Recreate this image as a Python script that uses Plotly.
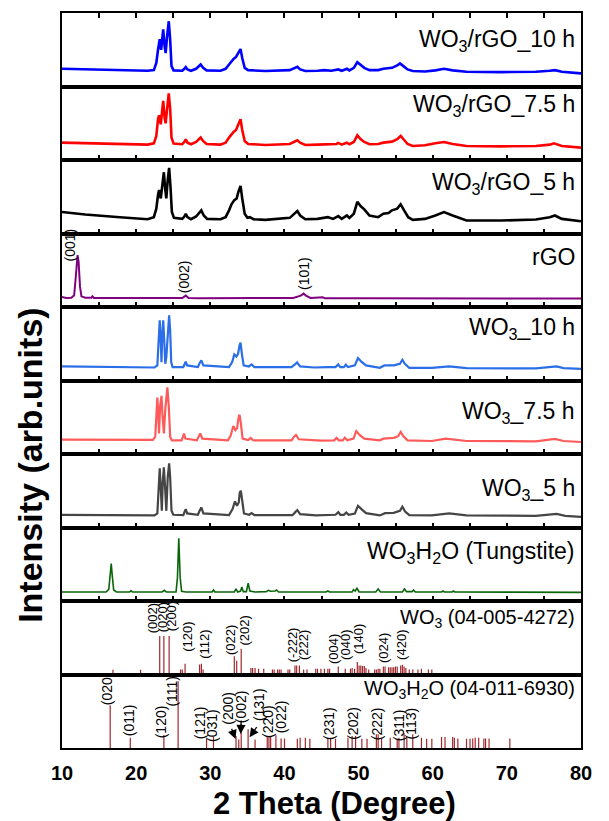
import plotly.graph_objects as go
from plotly.subplots import make_subplots

# ---------------- data (2theta in degree, intensity in % of panel height) -------------
rgo10_x = [10.0, 13.13, 17.81, 21.55, 22.39, 22.72, 22.95, 23.18, 23.37, 23.51, 23.65, 23.84, 23.98, 24.17, 24.40, 24.59, 24.77, 25.05, 26.22, 26.50, 26.69, 26.92, 27.39, 28.09, 28.47, 28.70, 29.03, 29.50, 31.37, 32.07, 32.53, 32.86, 33.14, 33.47, 33.75, 34.08, 34.31, 34.64, 35.11, 37.44, 40.72, 41.42, 41.74, 42.12, 42.82, 44.46, 45.39, 46.33, 47.03, 47.26, 47.73, 48.20, 48.43, 48.76, 49.36, 49.83, 50.30, 50.77, 51.47, 52.64, 53.34, 54.51, 55.21, 55.58, 56.05, 56.61, 57.31, 58.95, 60.35, 61.52, 62.69, 64.56, 69.23, 73.91, 75.78, 76.48, 77.42, 80.0]
rgo10_y = [24.1, 23.2, 21.9, 21.4, 22.3, 32.1, 50.0, 64.3, 50.0, 63.4, 77.7, 54.5, 45.5, 67.9, 88.8, 63.4, 27.7, 21.9, 21.4, 24.1, 26.3, 23.2, 21.4, 24.1, 27.7, 29.9, 25.4, 21.9, 21.4, 24.1, 29.9, 34.4, 37.5, 40.2, 45.5, 50.9, 38.8, 25.4, 22.3, 21.0, 22.3, 25.0, 26.8, 23.2, 21.0, 21.4, 22.3, 21.4, 22.3, 23.2, 21.4, 22.8, 24.1, 21.9, 25.4, 33.0, 28.6, 25.4, 22.3, 22.3, 24.1, 25.4, 28.6, 31.3, 27.7, 23.2, 21.0, 20.5, 21.9, 24.1, 21.9, 20.1, 19.6, 20.1, 21.4, 22.3, 20.1, 17.9]

rgo75_x = [10.0, 13.13, 17.81, 21.55, 22.39, 22.72, 22.95, 23.09, 23.32, 23.51, 23.65, 23.84, 23.98, 24.17, 24.40, 24.59, 24.77, 25.05, 26.22, 26.50, 26.69, 26.92, 27.39, 28.09, 28.47, 28.70, 29.03, 29.50, 31.37, 32.07, 32.53, 32.86, 33.14, 33.47, 33.75, 34.08, 34.31, 34.64, 35.11, 37.44, 40.72, 41.42, 41.74, 42.12, 42.82, 44.46, 45.86, 47.03, 47.26, 47.73, 48.20, 48.43, 48.76, 49.36, 49.83, 50.30, 50.77, 51.47, 52.64, 53.34, 54.51, 55.21, 55.68, 56.05, 56.61, 57.31, 58.95, 60.35, 61.52, 62.69, 64.56, 69.23, 73.91, 75.78, 76.34, 77.42, 80.0]
rgo75_y = [23.6, 22.7, 21.8, 20.9, 22.7, 32.7, 55.5, 60.9, 48.6, 64.5, 80.5, 57.7, 50.0, 69.1, 90.5, 69.1, 30.5, 22.3, 21.4, 24.5, 28.2, 23.6, 21.4, 24.5, 28.2, 30.5, 25.9, 21.8, 20.9, 23.6, 30.5, 35.0, 38.2, 40.9, 47.3, 55.5, 40.9, 25.9, 21.8, 20.5, 21.8, 25.0, 26.8, 23.6, 20.5, 20.9, 20.9, 21.8, 23.2, 20.9, 22.7, 23.6, 21.4, 24.5, 33.6, 28.2, 24.5, 21.4, 21.8, 23.6, 25.0, 28.2, 32.7, 28.2, 21.8, 19.1, 20.0, 22.7, 24.5, 21.8, 19.1, 18.6, 19.1, 20.9, 22.7, 19.1, 16.8]

rgo5_x = [10.0, 13.13, 17.81, 21.55, 22.39, 22.72, 22.95, 23.09, 23.32, 23.51, 23.74, 23.93, 24.07, 24.26, 24.45, 24.63, 24.82, 25.10, 26.22, 26.50, 26.69, 26.92, 27.39, 28.09, 28.47, 28.79, 29.12, 29.59, 31.37, 32.07, 32.53, 32.86, 33.24, 33.56, 33.80, 34.08, 34.31, 34.64, 35.01, 35.34, 35.81, 37.44, 40.72, 41.32, 41.74, 42.12, 42.82, 44.46, 45.86, 46.56, 47.26, 47.73, 48.20, 48.43, 48.76, 49.36, 49.83, 50.30, 50.77, 51.47, 52.64, 53.34, 54.04, 54.51, 55.21, 55.68, 56.14, 56.70, 57.31, 58.95, 60.35, 61.52, 62.69, 64.56, 69.23, 73.91, 75.78, 76.48, 77.42, 80.0]
rgo5_y = [29.2, 25.9, 22.2, 19.4, 22.2, 33.8, 52.3, 59.3, 47.7, 63.9, 83.3, 59.3, 47.7, 73.1, 89.4, 63.9, 29.2, 21.3, 19.9, 23.1, 26.9, 22.2, 19.4, 23.1, 28.2, 31.5, 24.5, 19.9, 19.4, 22.2, 31.5, 39.8, 45.4, 47.7, 56.9, 64.8, 47.7, 26.9, 21.3, 22.2, 19.4, 18.5, 21.3, 26.9, 30.6, 24.5, 19.4, 19.9, 22.2, 19.9, 23.6, 19.9, 23.1, 24.5, 21.3, 26.9, 43.1, 37.0, 32.9, 24.5, 22.2, 26.9, 27.8, 31.5, 33.8, 39.8, 31.5, 22.2, 18.5, 19.9, 24.5, 29.2, 24.5, 17.6, 17.6, 19.0, 22.2, 24.5, 19.9, 16.7]

rgo_x = [10.0, 10.56, 11.26, 11.64, 11.82, 12.01, 12.10, 12.24, 12.43, 12.62, 13.13, 13.97, 14.11, 14.30, 17.81, 22.48, 26.22, 26.69, 27.06, 28.56, 31.83, 36.51, 41.18, 42.21, 42.59, 42.96, 43.52, 45.16, 45.48, 50.53, 59.88, 80.0]
rgo_y = [13.6, 12.3, 12.7, 15.9, 36.4, 63.6, 70.5, 61.4, 27.3, 14.5, 12.7, 12.7, 14.5, 12.3, 12.3, 11.8, 12.3, 15.5, 12.3, 11.8, 11.8, 11.8, 12.3, 15.5, 18.2, 15.0, 12.3, 13.2, 11.8, 11.8, 11.4, 11.4]

wo10_x = [10.0, 17.81, 22.48, 22.86, 23.04, 23.18, 23.32, 23.42, 23.51, 23.65, 23.79, 23.93, 24.07, 24.30, 24.45, 24.59, 24.73, 24.91, 26.36, 26.55, 26.69, 26.88, 28.33, 28.56, 28.79, 29.07, 32.53, 32.95, 33.24, 33.52, 33.75, 33.94, 34.08, 34.26, 34.50, 35.20, 35.57, 35.95, 40.95, 41.42, 41.70, 42.12, 43.99, 45.86, 46.89, 47.26, 47.54, 48.01, 48.29, 48.57, 49.50, 49.92, 50.34, 51.0, 52.87, 53.48, 54.74, 55.58, 55.91, 56.24, 56.84, 59.88, 62.22, 64.56, 73.91, 76.71, 77.65, 80.0]
wo10_y = [19.1, 18.2, 17.7, 20.5, 68.2, 81.8, 54.5, 25.0, 59.1, 81.8, 54.5, 22.7, 31.8, 77.3, 88.6, 68.2, 25.0, 18.2, 18.2, 22.7, 25.5, 20.5, 18.2, 23.6, 27.3, 20.5, 18.2, 25.0, 35.5, 32.7, 36.4, 47.7, 51.4, 36.4, 20.5, 19.1, 21.8, 18.2, 18.2, 21.8, 24.5, 19.1, 17.7, 18.2, 18.2, 21.8, 18.2, 18.2, 21.4, 18.2, 20.5, 30.5, 25.9, 20.5, 17.3, 20.5, 20.5, 22.7, 28.2, 22.7, 17.3, 17.3, 19.1, 16.8, 16.4, 19.1, 16.8, 15.9]

wo75_x = [10.0, 17.81, 22.25, 22.58, 22.72, 22.86, 23.0, 23.09, 23.23, 23.42, 23.56, 23.74, 23.93, 24.21, 24.40, 24.59, 24.82, 26.13, 26.31, 26.45, 26.64, 28.19, 28.42, 28.65, 28.93, 32.39, 32.77, 33.10, 33.38, 33.61, 33.80, 33.94, 34.12, 34.36, 35.11, 35.43, 35.81, 40.95, 41.28, 41.56, 41.93, 44.92, 46.70, 47.03, 47.35, 47.87, 48.15, 48.48, 49.32, 49.69, 50.16, 50.77, 52.87, 53.34, 54.74, 55.35, 55.68, 56.05, 56.61, 59.88, 61.75, 64.56, 73.91, 76.48, 77.65, 80.0]
wo75_y = [19.5, 19.1, 19.1, 23.3, 60.5, 76.7, 51.2, 27.9, 65.1, 79.1, 51.2, 27.9, 60.5, 90.7, 65.1, 23.3, 18.6, 18.6, 23.3, 27.9, 20.9, 18.6, 23.3, 27.9, 20.9, 18.6, 25.6, 38.1, 32.6, 34.9, 48.8, 53.5, 41.9, 20.9, 19.1, 21.9, 18.6, 18.6, 23.3, 26.0, 20.0, 18.1, 18.6, 21.9, 18.6, 18.6, 22.3, 18.6, 20.9, 31.2, 25.6, 20.9, 18.6, 20.9, 21.9, 24.2, 30.2, 24.2, 18.6, 17.7, 20.9, 17.7, 17.2, 20.5, 17.7, 16.3]

wo5_x = [10.0, 17.81, 22.48, 22.86, 23.04, 23.18, 23.32, 23.46, 23.60, 23.74, 23.88, 24.07, 24.26, 24.45, 24.59, 24.77, 25.01, 26.36, 26.55, 26.69, 26.88, 28.33, 28.56, 28.79, 29.07, 32.53, 33.0, 33.33, 33.61, 33.84, 33.98, 34.12, 34.31, 34.54, 35.25, 35.57, 35.95, 41.09, 41.46, 41.74, 42.12, 44.22, 46.89, 47.26, 47.54, 48.01, 48.34, 48.66, 49.50, 49.92, 50.39, 51.0, 52.87, 53.57, 54.74, 55.58, 55.91, 56.28, 56.84, 59.88, 62.22, 64.56, 73.91, 76.71, 77.88, 80.0]
wo5_y = [17.3, 16.8, 16.4, 19.1, 68.2, 80.5, 54.5, 22.7, 63.6, 81.8, 59.1, 22.7, 68.2, 87.3, 68.2, 22.7, 17.3, 16.8, 21.8, 25.0, 19.1, 17.3, 22.7, 27.3, 19.1, 16.8, 25.0, 35.5, 29.5, 34.1, 47.7, 50.0, 36.4, 19.1, 17.3, 19.5, 16.8, 16.8, 20.9, 23.6, 18.2, 16.4, 17.3, 20.9, 17.3, 17.3, 20.5, 17.3, 19.1, 29.5, 25.0, 19.5, 16.4, 19.5, 20.0, 22.7, 28.2, 21.8, 16.8, 16.4, 19.1, 16.4, 15.9, 18.6, 15.9, 14.5]

tung_x = [10.0, 15.94, 16.31, 16.50, 16.64, 16.78, 16.97, 17.34, 19.12, 19.30, 19.49, 23.51, 23.79, 24.07, 25.38, 25.57, 25.75, 25.94, 26.13, 26.69, 30.24, 30.43, 30.62, 33.24, 33.47, 33.70, 34.08, 34.26, 34.45, 34.87, 35.11, 35.34, 36.04, 37.54, 37.82, 38.14, 38.75, 38.94, 39.22, 45.62, 45.86, 46.09, 49.13, 49.32, 49.55, 49.78, 50.07, 52.31, 52.64, 52.96, 55.91, 56.19, 56.47, 57.22, 57.41, 57.64, 61.19, 61.38, 61.57, 62.60, 62.78, 62.97, 80.0]
tung_y = [12.3, 12.3, 15.9, 36.4, 50.9, 34.1, 15.0, 12.3, 12.3, 14.1, 12.3, 12.3, 14.5, 12.3, 12.3, 31.8, 85.5, 31.8, 13.2, 12.3, 12.3, 15.0, 12.3, 12.3, 16.4, 12.3, 13.6, 19.1, 12.7, 12.7, 24.1, 13.6, 12.3, 12.7, 14.5, 13.2, 13.6, 15.0, 12.3, 12.3, 13.6, 12.3, 12.3, 15.5, 13.6, 17.3, 12.3, 12.3, 16.4, 12.3, 12.3, 16.4, 12.7, 12.7, 15.0, 12.3, 12.3, 13.6, 12.3, 12.3, 13.6, 12.3, 11.8]

wo3_ref_pos = [16.87, 20.6, 23.18, 23.74, 24.45, 25.99, 26.22, 26.6, 28.56, 28.8, 29.03, 33.24, 33.56, 34.17, 35.48, 35.71, 36.04, 36.51, 37.21, 38.38, 38.61, 39.08, 39.31, 39.55, 40.48, 40.72, 41.42, 41.65, 42.02, 42.59, 43.05, 44.22, 44.46, 44.92, 45.39, 45.86, 46.09, 47.26, 48.2, 48.9, 49.13, 49.46, 49.83, 50.07, 50.3, 50.53, 50.77, 51.0, 51.37, 52.17, 52.4, 52.64, 52.87, 53.34, 53.57, 54.04, 54.27, 54.51, 54.74, 54.97, 55.21, 55.68, 55.91, 56.14, 56.38, 56.84, 57.31, 58.01, 58.48, 59.42, 59.88]
wo3_ref_int = [6.4, 6.4, 52.5, 52.5, 52.5, 6.8, 6.8, 14.6, 13.7, 14.6, 6.8, 24.7, 18.7, 35.2, 8.7, 8.7, 8.7, 7.8, 7.8, 6.8, 6.8, 6.8, 6.8, 6.8, 6.8, 6.8, 12.3, 12.3, 12.3, 6.8, 6.8, 7.8, 7.8, 7.8, 7.8, 7.8, 7.8, 11.0, 7.8, 7.8, 8.7, 7.8, 16.9, 12.3, 12.3, 11.4, 11.4, 8.7, 6.8, 6.8, 6.8, 7.8, 7.8, 11.0, 11.0, 10.0, 10.0, 10.0, 10.0, 11.0, 11.0, 12.3, 13.2, 11.0, 8.7, 6.8, 6.8, 6.8, 7.8, 6.8, 6.8]
wo3_hkl = ["(002)", "(020)", "(200)", "(120)", "(112)", "(022)", "(202)", "(-222)", "(222)", "(004)", "(040)", "(140)", "(024)", "(420)"]
wo3_hkl_x = [22.2, 23.5, 24.8, 26.9, 29.3, 32.8, 34.6, 41.1, 42.6, 46.6, 48.2, 49.9, 53.4, 55.8]
wo3_hkl_y = [77, 78, 79, 51.6, 40.6, 47, 60.3, 40.6, 39.7, 35.2, 40.6, 48, 35.6, 39.7]

tw_ref_pos = [16.5, 19.21, 23.74, 25.66, 29.5, 30.43, 33.47, 33.84, 34.17, 35.1, 36.04, 37.68, 37.91, 38.14, 38.85, 39.55, 40.01, 41.74, 42.12, 42.82, 43.43, 45.86, 46.23, 46.89, 48.57, 49.13, 49.6, 50.44, 51.14, 52.4, 52.64, 53.1, 54.27, 55.21, 55.44, 56.14, 56.51, 57.31, 58.48, 59.18, 59.88, 61.19, 61.66, 62.69, 62.92, 63.39, 64.56, 65.03, 65.4, 65.73, 66.2, 66.9, 67.13, 67.6, 70.4]
tw_ref_int = [58.1, 14.0, 17.7, 90.7, 12.6, 15.3, 16.3, 11.6, 32.6, 25.6, 11.6, 16.3, 16.3, 16.3, 17.2, 13.0, 13.0, 12.6, 14.0, 14.0, 12.6, 14.0, 14.0, 12.6, 14.0, 16.3, 16.3, 12.6, 12.6, 18.6, 18.6, 13.0, 14.0, 12.6, 14.0, 20.0, 14.0, 18.6, 14.0, 12.6, 12.6, 14.9, 14.9, 14.9, 14.0, 13.0, 12.6, 12.6, 13.0, 14.0, 14.0, 13.0, 13.0, 13.0, 13.0]
tw_hkl = ["(020)", "(011)", "(120)", "(111)", "(121)", "(031)", "(200)", "(002)", "(131)", "(220)", "(022)", "(231)", "(202)", "(222)", "(311)", "(113)"]
tw_hkl_x = [16.17, 18.98, 23.3, 24.8, 28.65, 30.2, 32.39, 34.17, 36.5, 37.68, 39.55, 46.09, 49.22, 52.5, 55.44, 57.08]
tw_hkl_y = [81, 37.2, 35.8, 77.7, 34, 31, 53.5, 55.8, 59, 35.8, 41.9, 33.5, 34, 32.6, 31, 33.5]
# arrows: tail (x,y) -> head (x,y)
tw_arrow_tail_x = [32.8, 34.17, 36.4]
tw_arrow_tail_y = [28.2, 39.5, 30.5]
tw_arrow_head_x = [33.4, 34.1, 35.3]
tw_arrow_head_y = [12.2, 19.0, 14.6]

rgo_hkl = ["(001)", "(002)", "(101)"]
rgo_hkl_x = [11.1, 26.5, 42.6]
rgo_hkl_y = [84, 41, 46]

panel_labels = ["WO<sub>3</sub>/rGO_10 h", "WO<sub>3</sub>/rGO_7.5 h", "WO<sub>3</sub>/rGO_5 h", "rGO",
                "WO<sub>3</sub>_10 h", "WO<sub>3</sub>_7.5 h", "WO<sub>3</sub>_5 h",
                "WO<sub>3</sub>H<sub>2</sub>O (Tungstite)", "WO<sub>3</sub> (04-005-4272)",
                "WO<sub>3</sub>H<sub>2</sub>O (04-011-6930)"]
panel_label_y = [63, 73.6, 68.5, 68, 70.5, 55.8, 52.3, 66, 76, 79]
x_ticks = [10, 20, 30, 40, 50, 60, 70, 80]

# ---------------- figure ----------------
FONT = "Arial, 'Liberation Sans', sans-serif"
N = 10
fig = make_subplots(rows=N, cols=1, shared_xaxes=False, vertical_spacing=0)

curves = [
    (rgo10_x, rgo10_y, "#0000FF", 2.6),
    (rgo75_x, rgo75_y, "#FF0000", 2.6),
    (rgo5_x, rgo5_y, "#000000", 2.6),
    (rgo_x, rgo_y, "#800080", 2.0),
    (wo10_x, wo10_y, "#2A6EE8", 2.2),
    (wo75_x, wo75_y, "#FF5A5A", 2.2),
    (wo5_x, wo5_y, "#454545", 2.2),
    (tung_x, tung_y, "#0A640A", 1.6),
]
for i, (xs, ys, col, w) in enumerate(curves, start=1):
    fig.add_trace(go.Scatter(x=xs, y=ys, mode="lines", line=dict(color=col, width=w),
                             showlegend=False, hoverinfo="skip"), row=i, col=1)


def sticks(pos, inten):
    xs, ys = [], []
    for p, v in zip(pos, inten):
        xs += [p, p, None]
        ys += [0, v, None]
    return xs, ys


sx, sy = sticks(wo3_ref_pos, wo3_ref_int)
fig.add_trace(go.Scatter(x=sx, y=sy, mode="lines", line=dict(color="#A0282D", width=1.2),
                         showlegend=False, hoverinfo="skip"), row=9, col=1)
sx, sy = sticks(tw_ref_pos, tw_ref_int)
fig.add_trace(go.Scatter(x=sx, y=sy, mode="lines", line=dict(color="#A0282D", width=1.2),
                         showlegend=False, hoverinfo="skip"), row=10, col=1)


def refs(i):
    s = "" if i == 1 else str(i)
    return "x" + s, "y" + s


for i in range(1, N + 1):
    xa = dict(range=[10, 80], showline=True, linecolor="black", linewidth=1.5, mirror=True,
              showgrid=False, zeroline=False, tickvals=[10, 15, 20, 25, 30, 35, 40, 45, 50, 55, 60, 65, 70, 75, 80],
              ticks="inside", ticklen=5, tickwidth=1.5, tickcolor="black", showticklabels=False)
    if i == 1:
        xa["side"] = "top"
    if i >= 9:
        xa["ticks"] = ""
    if i == N:
        xa.update(showticklabels=True, tickvals=x_ticks, ticktext=[str(t) for t in x_ticks],
                  tickfont=dict(family=FONT, size=20, color="black", weight="bold"),
                  ticklabelstandoff=6)
    ya = dict(range=[0, 100], showline=True, linecolor="black", linewidth=1.5, mirror=True,
              showgrid=False, zeroline=False, showticklabels=False, ticks="")
    fig.update_xaxes(row=i, col=1, **xa)
    fig.update_yaxes(row=i, col=1, **ya)

ann = []
for i, (lab, yv) in enumerate(zip(panel_labels, panel_label_y), start=1):
    xr, yr = refs(i)
    size = 23 if i <= 8 else 20
    ann.append(dict(text=lab, xref=xr + " domain", yref=yr, x=1, y=yv, xanchor="right", yanchor="middle",
                    xshift=-4, showarrow=False, font=dict(family=FONT, size=size, color="black")))

for lab, xv, yv in zip(rgo_hkl, rgo_hkl_x, rgo_hkl_y):
    ann.append(dict(text=lab, xref="x4", yref="y4", x=xv, y=yv, textangle=-90, showarrow=False,
                    xanchor="center", yanchor="middle", font=dict(family=FONT, size=14, color="black")))
for lab, xv, yv in zip(wo3_hkl, wo3_hkl_x, wo3_hkl_y):
    ann.append(dict(text=lab, xref="x9", yref="y9", x=xv, y=yv, textangle=-90, showarrow=False,
                    xanchor="center", yanchor="middle", font=dict(family=FONT, size=13, color="black")))
for lab, xv, yv in zip(tw_hkl, tw_hkl_x, tw_hkl_y):
    ann.append(dict(text=lab, xref="x10", yref="y10", x=xv, y=yv, textangle=-90, showarrow=False,
                    xanchor="center", yanchor="middle", font=dict(family=FONT, size=14, color="black")))
for tx, ty, hx, hy in zip(tw_arrow_tail_x, tw_arrow_tail_y, tw_arrow_head_x, tw_arrow_head_y):
    ann.append(dict(text="", xref="x10", yref="y10", axref="x10", ayref="y10", x=hx, y=hy, ax=tx, ay=ty,
                    showarrow=True, arrowhead=2, arrowsize=1.4, arrowwidth=1.3, arrowcolor="black"))

ann.append(dict(text="<b>Intensity (arb.units)</b>", xref="paper", yref="paper", x=-0.062, y=0.385,
                textangle=-90, showarrow=False, xanchor="center", yanchor="middle",
                font=dict(family=FONT, size=34, color="black")))
ann.append(dict(text="<b>2 Theta (Degree)</b>", xref="paper", yref="paper", x=0.525, y=-0.075,
                showarrow=False, xanchor="center", yanchor="middle",
                font=dict(family=FONT, size=31, color="black")))

fig.update_layout(width=609, height=821, margin=dict(l=62, r=28, t=13, b=73),
                  paper_bgcolor="white", plot_bgcolor="white", annotations=ann,
                  font=dict(family=FONT, color="black"))

fig.write_html("out.html")
